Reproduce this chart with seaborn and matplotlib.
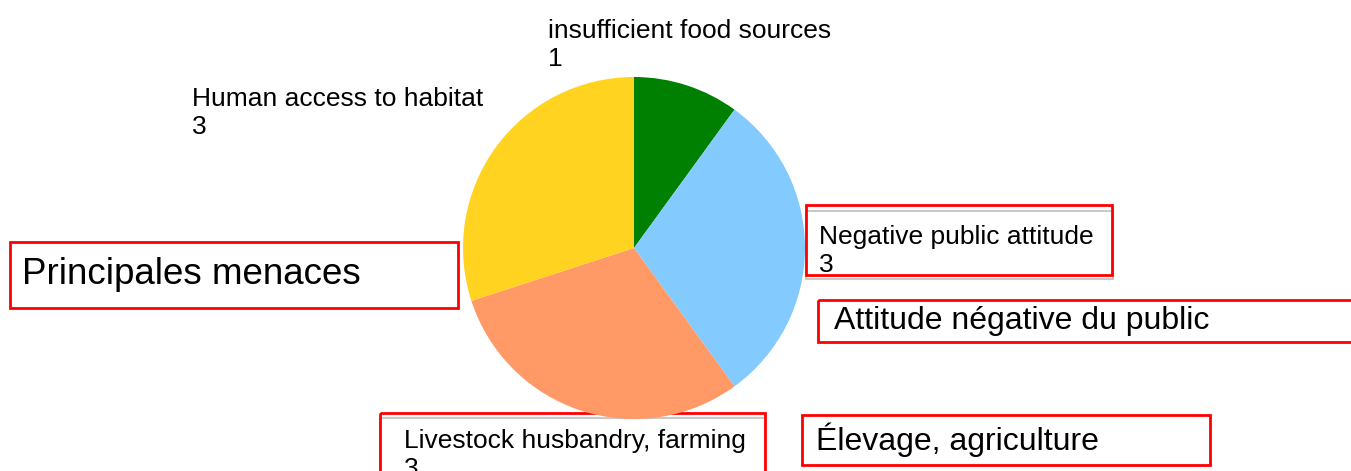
import matplotlib
matplotlib.use("Agg")
import matplotlib.pyplot as plt
import seaborn as sns
from matplotlib.patches import Rectangle

# data
threats = ["insufficient food sources", "Negative public attitude",
           "Livestock husbandry, farming", "Human access to habitat"]
counts = [1, 3, 3, 3]
colors = ["#008000", "#83caff", "#ff9966", "#ffd320"]

sns.set_theme(style="white")
plt.rcParams['font.family'] = ['Liberation Sans', 'DejaVu Sans']
plt.rcParams['text.color'] = 'black'

W, H = 1351, 471
fig = plt.figure(figsize=(W / 100, H / 100), dpi=100)

# background axes in pixel coords (y down)
bg = fig.add_axes([0, 0, 1, 1])
bg.set_xlim(0, W)
bg.set_ylim(H, 0)
bg.axis("off")

# pie axes
cx, cy, r = 634, 248, 171
pax = fig.add_axes([(cx - r) / W, (H - cy - r) / H, 2 * r / W, 2 * r / H])
pax.pie(counts, colors=colors, startangle=90, counterclock=False,
        wedgeprops=dict(linewidth=0))
pax.set_xlim(-1, 1)
pax.set_ylim(-1, 1)
pax.set_aspect("equal")
pax.axis("off")

# slice labels
small = 19
lbl_pos = [(548, 19), (819, 225), (404, 429), (192, 87)]
for name, val, (x, y) in zip(threats, counts, lbl_pos):
    bg.text(x, y, f"{name}\n{val}", fontsize=small, ha="left", va="top",
            linespacing=1.2, color="black")

# grey shadows
bg.add_patch(Rectangle((806, 211), 307, 68, fill=False, ec="#c8c8c8", lw=1.5))
bg.add_patch(Rectangle((380, 418), 385, 60, fill=False, ec="#c8c8c8", lw=1.5))

# red boxes
boxes = [(10, 242, 448, 66), (806, 205, 306, 70), (818, 300, 540, 42),
         (380, 413, 385, 70), (802, 415, 408, 50)]
for x, y, w, h in boxes:
    bg.add_patch(Rectangle((x, y), w, h, fill=False, ec="#ff0000", lw=2))

bg.text(22, 275, "Principales menaces", fontsize=26.5, ha="left", va="center",
        color="black")
bg.text(834, 321, "Attitude négative du public", fontsize=23, ha="left",
        va="center", color="black")
bg.text(816, 440, "Élevage, agriculture", fontsize=23, ha="left", va="center",
        color="black")

fig.savefig("out.png", dpi=100)
